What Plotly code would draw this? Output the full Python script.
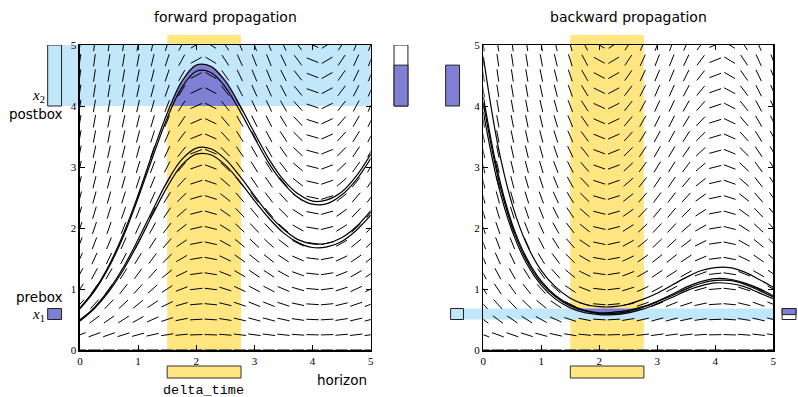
import math
import plotly.graph_objects as go

W, H = 798, 397

# ---------------- data ----------------
t_pts = [0.0, 0.25, 0.5, 0.75, 1.0, 1.25, 1.5, 1.75, 2.0, 2.25, 2.5,
         2.75, 3.0, 3.25, 3.5, 3.75, 4.0, 4.25, 4.5, 4.75, 5.0]
y_rows = [0.0, 0.25, 0.5, 0.75, 1.0, 1.25, 1.5, 1.75, 2.0, 2.25, 2.5,
          2.75, 3.0, 3.25, 3.5, 3.75, 4.0, 4.25, 4.5, 4.75, 5.0]

# growth rate of the slope field per column (slope = rate * x)
rate_fwd = [1.43, 1.41, 1.33, 1.21, 1.05, 0.85, 0.62, 0.37, 0.11, -0.12, -0.30,
            -0.44, -0.51, -0.50, -0.42, -0.27, -0.08, 0.12, 0.30, 0.44, 0.51]
rate_bwd = [-1.43, -1.41, -1.33, -1.21, -1.05, -0.85, -0.62, -0.37, -0.11, 0.12, 0.30,
            0.44, 0.51, 0.50, 0.42, 0.27, 0.08, -0.12, -0.30, -0.44, -0.51]

fwd_1 = [0.69, 0.985, 1.39, 1.91, 2.54, 3.23, 3.88, 4.40, 4.67, 4.65, 4.41,
         4.01, 3.56, 3.13, 2.79, 2.56, 2.44, 2.46, 2.59, 2.85, 3.21]
fwd_2 = [0.675, 0.964, 1.36, 1.87, 2.49, 3.16, 3.80, 4.30, 4.57, 4.55, 4.31,
         3.92, 3.48, 3.06, 2.73, 2.50, 2.39, 2.40, 2.54, 2.79, 3.14]
fwd_3 = [0.49, 0.70, 0.99, 1.36, 1.81, 2.29, 2.76, 3.12, 3.31, 3.30, 3.13,
         2.85, 2.53, 2.22, 1.98, 1.81, 1.74, 1.75, 1.84, 2.02, 2.28]
fwd_4 = [0.475, 0.68, 0.96, 1.32, 1.75, 2.22, 2.67, 3.03, 3.21, 3.20, 3.03,
         2.76, 2.45, 2.16, 1.92, 1.76, 1.68, 1.69, 1.78, 1.96, 2.21]

bwd_1 = [4.80, 3.36, 2.38, 1.73, 1.30, 1.03, 0.85, 0.75, 0.71, 0.71, 0.75,
         0.83, 0.93, 1.06, 1.19, 1.30, 1.35, 1.35, 1.28, 1.16, 1.03]
bwd_2 = [4.15, 2.91, 2.06, 1.50, 1.13, 0.89, 0.74, 0.65, 0.61, 0.62, 0.65,
         0.71, 0.80, 0.91, 1.03, 1.12, 1.17, 1.16, 1.10, 1.01, 0.89]
bwd_3 = [4.05, 2.84, 2.01, 1.46, 1.10, 0.87, 0.72, 0.64, 0.60, 0.60, 0.63,
         0.70, 0.79, 0.89, 1.00, 1.09, 1.14, 1.14, 1.08, 0.98, 0.87]
bwd_4 = [3.90, 2.73, 1.94, 1.41, 1.06, 0.83, 0.69, 0.61, 0.58, 0.58, 0.61,
         0.67, 0.76, 0.86, 0.97, 1.05, 1.10, 1.09, 1.04, 0.94, 0.84]

delta_time = [1.5, 2.77]
postbox = [4.0, 5.0]
prebox = [0.5, 0.68]
horizon = 5.0
tick_vals = [0, 1, 2, 3, 4, 5]
tick_text = ["0", "1", "2", "3", "4", "5"]

# ---------------- layout geometry (pixels) ----------------
TOP, BOT = 45, 350
L_X0, L_X1 = 77.5, 370.5
R_X0, R_X1 = 484, 776
PH = BOT - TOP

YELLOW = "#ffe680"
BLUE = "#c2e6fa"
PURPLE = "#7f7fd4"


def px(x):
    return x / W


def py(y):
    return (BOT - y) / PH


def segments(rates, xppu, yppu, L=12.5):
    xs, ys = [], []
    for t, r in zip(t_pts, rates):
        for y in y_rows:
            m = r * y
            k = (L / 2) / math.hypot(xppu, m * yppu)
            xs += [t - k, t + k, None]
            ys += [y - k * m, y + k * m, None]
    return xs, ys


def crossings(curve, level, above):
    """polygon between curve and level where curve is above/below level"""
    xs, ys = [], []
    n = len(curve)
    for i in range(n):
        inside = curve[i] > level if above else curve[i] < level
        if i > 0:
            prev_in = curve[i - 1] > level if above else curve[i - 1] < level
            if inside != prev_in:
                f = (level - curve[i - 1]) / (curve[i] - curve[i - 1])
                xs.append(t_pts[i - 1] + f * (t_pts[i] - t_pts[i - 1]))
                ys.append(level)
        if inside:
            xs.append(t_pts[i])
            ys.append(curve[i])
    return xs, ys


fig = go.Figure()

# purple reach regions
px_l, py_l = crossings(fwd_1, postbox[0], True)
fig.add_trace(go.Scatter(x=px_l, y=py_l, mode="lines", fill="toself",
                         fillcolor=PURPLE, line=dict(width=0, shape="spline"),
                         xaxis="x", yaxis="y", hoverinfo="skip"))
px_r, py_r = crossings(bwd_4, prebox[1], False)
fig.add_trace(go.Scatter(x=px_r, y=py_r, mode="lines", fill="toself",
                         fillcolor=PURPLE, line=dict(width=0, shape="spline"),
                         xaxis="x2", yaxis="y2", hoverinfo="skip"))

# slope fields
sx, sy = segments(rate_fwd, (L_X1 - L_X0) / 5, PH / 5)
fig.add_trace(go.Scatter(x=sx, y=sy, mode="lines", line=dict(color="black", width=1),
                         xaxis="x", yaxis="y", hoverinfo="skip"))
sx, sy = segments(rate_bwd, (R_X1 - R_X0) / 5, PH / 5)
fig.add_trace(go.Scatter(x=sx, y=sy, mode="lines", line=dict(color="black", width=1),
                         xaxis="x2", yaxis="y2", hoverinfo="skip"))

for c in (fwd_1, fwd_2, fwd_3, fwd_4):
    fig.add_trace(go.Scatter(x=t_pts, y=c, mode="lines",
                             line=dict(color="black", width=1.2, shape="spline"),
                             xaxis="x", yaxis="y", hoverinfo="skip"))
for c in (bwd_1, bwd_2, bwd_3, bwd_4):
    fig.add_trace(go.Scatter(x=t_pts, y=c, mode="lines",
                             line=dict(color="black", width=1.2, shape="spline"),
                             xaxis="x2", yaxis="y2", hoverinfo="skip"))

shapes = []
box_line = dict(color="#222", width=1)
for xa in ("x", "x2"):
    # yellow delta_time band
    shapes.append(dict(type="rect", xref=xa, yref="paper", x0=delta_time[0], x1=delta_time[1],
                       y0=0, y1=py(35), fillcolor=YELLOW, line=dict(width=0), layer="below"))
    # yellow box under axis
    shapes.append(dict(type="rect", xref=xa, yref="paper", x0=delta_time[0], x1=delta_time[1],
                       y0=py(378), y1=py(366), fillcolor=YELLOW,
                       line=dict(color="#333", width=1), layer="above"))

# left plot: postbox band and boxes
shapes.append(dict(type="rect", xref="paper", yref="y", x0=px(59), x1=px(L_X1),
                   y0=postbox[0], y1=postbox[1], fillcolor=BLUE, line=dict(width=0), layer="below"))
shapes.append(dict(type="rect", xref="paper", yref="y", x0=px(45), x1=px(59),
                   y0=postbox[0], y1=postbox[1], fillcolor=BLUE, line=box_line, layer="above"))
shapes.append(dict(type="rect", xref="paper", yref="y", x0=px(45), x1=px(59),
                   y0=prebox[0], y1=prebox[1], fillcolor=PURPLE, line=box_line, layer="above"))
shapes.append(dict(type="rect", xref="paper", yref="y", x0=px(394), x1=px(408),
                   y0=postbox[0], y1=postbox[1], fillcolor="white", line=box_line, layer="above"))
shapes.append(dict(type="rect", xref="paper", yref="y", x0=px(394), x1=px(408),
                   y0=postbox[0], y1=max(fwd_1), fillcolor=PURPLE, line=box_line, layer="above"))

# right plot: prebox band and boxes
shapes.append(dict(type="rect", xref="paper", yref="y2", x0=px(464), x1=px(R_X1),
                   y0=prebox[0], y1=prebox[1], fillcolor=BLUE, line=dict(width=0), layer="below"))
shapes.append(dict(type="rect", xref="paper", yref="y2", x0=px(451), x1=px(464),
                   y0=prebox[0], y1=prebox[1], fillcolor=BLUE, line=box_line, layer="above"))
shapes.append(dict(type="rect", xref="paper", yref="y2", x0=px(446), x1=px(460),
                   y0=postbox[0], y1=max(fwd_1), fillcolor=PURPLE, line=box_line, layer="above"))
shapes.append(dict(type="rect", xref="paper", yref="y2", x0=px(785), x1=px(799),
                   y0=prebox[0], y1=prebox[1], fillcolor="white", line=box_line, layer="above"))
shapes.append(dict(type="rect", xref="paper", yref="y2", x0=px(785), x1=px(799),
                   y0=min(bwd_4), y1=prebox[1], fillcolor=PURPLE, line=box_line, layer="above"))

SANS = "DejaVu Sans"
SERIF = "Liberation Serif"
ann = []


def label(x, y, text, size=13, family=SANS, xanchor="center"):
    ann.append(dict(x=px(x), y=py(y), xref="paper", yref="paper", text=text, showarrow=False,
                    font=dict(family=family, size=size, color="black"), xanchor=xanchor,
                    yanchor="middle"))


label((L_X0 + L_X1) / 2, 17, "forward propagation", 14)
label((R_X0 + R_X1) / 2, 17, "backward propagation", 14)
label(62, 114, "postbox", 13.5, xanchor="right")
label(62, 297, "prebox", 13.5, xanchor="right")
label(44, 96, "<i>x</i><sub>2</sub>", 15, SERIF, xanchor="right")
label(44, 315, "<i>x</i><sub>1</sub>", 15, SERIF, xanchor="right")
label(369, 380, "horizon", 13.5, xanchor="right")
label(202, 390, "delta_time", 13.5, "Liberation Mono")

axis_common = dict(range=[0, 5], showgrid=False, zeroline=False, showline=True,
                   linecolor="black", linewidth=1.5, mirror="ticks", ticks="inside",
                   ticklen=5, tickwidth=1, tickcolor="black", tickvals=tick_vals,
                   ticktext=tick_text, tickfont=dict(family=SERIF, size=11, color="black"))

fig.update_layout(
    width=W, height=H, showlegend=False,
    paper_bgcolor="white", plot_bgcolor="white",
    margin=dict(l=0, r=0, t=TOP, b=H - BOT),
    xaxis=dict(domain=[px(L_X0), px(L_X1)], anchor="y", **axis_common),
    yaxis=dict(domain=[0, 1], anchor="x", **axis_common),
    xaxis2=dict(domain=[px(R_X0), px(R_X1)], anchor="y2", **axis_common),
    yaxis2=dict(domain=[0, 1], anchor="x2", **axis_common),
    shapes=shapes, annotations=ann,
)

fig.write_html("out.html", config={"displayModeBar": False, "staticPlot": True},
               post_script="document.body.style.margin='0';document.body.style.overflow='hidden';")
